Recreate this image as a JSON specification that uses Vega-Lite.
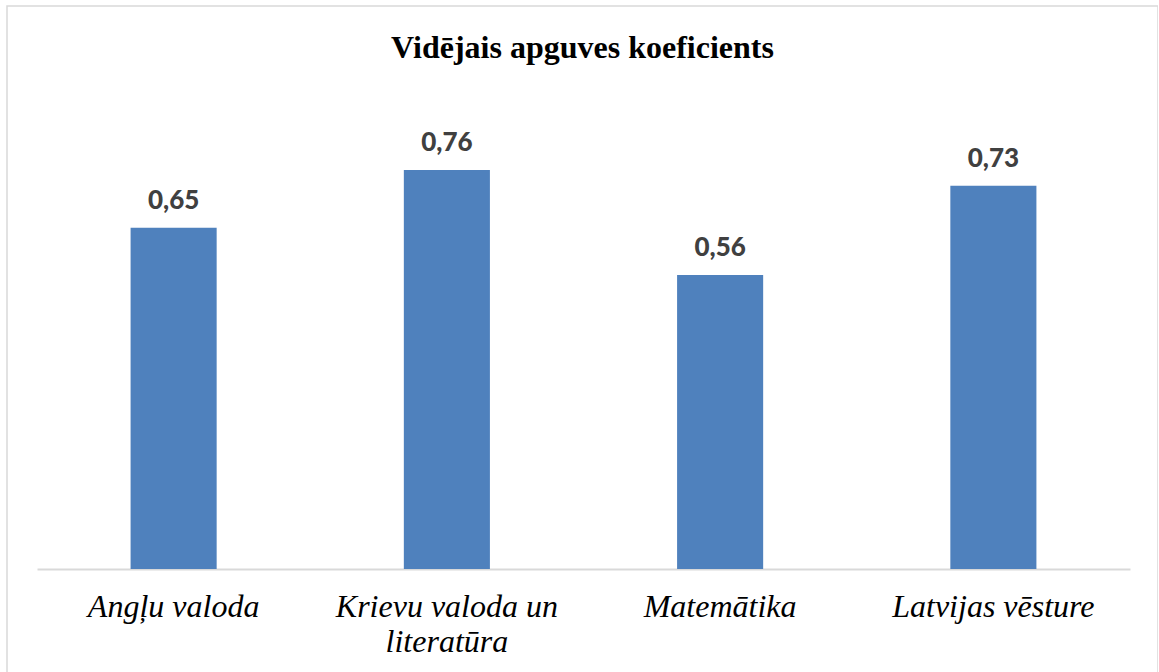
{
  "$schema": "https://vega.github.io/schema/vega-lite/v6.json",
  "autosize": "none",
  "padding": {"left": 7, "top": 6, "right": 0, "bottom": 0},
  "width": 1151,
  "height": 670,
  "background": "white",
  "title": {
    "text": "Vidējais apguves koeficients",
    "font": "Liberation Serif",
    "fontSize": 32,
    "fontWeight": "bold",
    "color": "#000000",
    "anchor": "middle",
    "frame": "group",
    "offset": -59
  },
  "data": {
    "values": [
      {"subject": "Angļu valoda", "value": 0.65},
      {"subject": "Krievu valoda un literatūra", "value": 0.76},
      {"subject": "Matemātika", "value": 0.56},
      {"subject": "Latvijas vēsture", "value": 0.73}
    ]
  },
  "encoding": {
    "x": {
      "field": "subject",
      "type": "nominal",
      "sort": null,
      "scale": {"range": [30, 1123], "paddingInner": 0.685, "paddingOuter": 0.3425},
      "axis": {
        "title": null,
        "orient": "bottom",
        "offset": -107,
        "labelAngle": 0,
        "ticks": false,
        "grid": false,
        "domainColor": "#d9d9d9",
        "domainWidth": 2,
        "labelFont": "'Liberation Serif', 'DejaVu Serif', serif",
        "labelFontStyle": "italic",
        "labelFontSize": 32,
        "labelColor": "#000000",
        "labelPadding": 22,
        "labelLineHeight": 35,
        "labelLimit": 0,
        "labelExpr": "datum.value == 'Krievu valoda un literatūra' ? ['Krievu valoda un', 'literatūra'] : datum.value"
      }
    },
    "y": {
      "field": "value",
      "type": "quantitative",
      "scale": {"domain": [0, 0.9], "range": [563, 90.5], "nice": false, "zero": true},
      "axis": null
    }
  },
  "layer": [
    {"mark": {"type": "bar", "color": "#4F81BD"}},
    {
      "mark": {
        "type": "text",
        "font": "Lato",
        "fontWeight": 900,
        "fontSize": 26,
        "color": "#404040",
        "baseline": "alphabetic",
        "dy": -19
      },
      "encoding": {"text": {"field": "value", "type": "quantitative", "format": ".2f"}}
    }
  ],
  "config": {
    "view": {"stroke": "#d9d9d9", "strokeWidth": 1.5},
    "locale": {"number": {"decimal": ",", "thousands": " ", "grouping": [3], "currency": ["", " €"]}}
  }
}
